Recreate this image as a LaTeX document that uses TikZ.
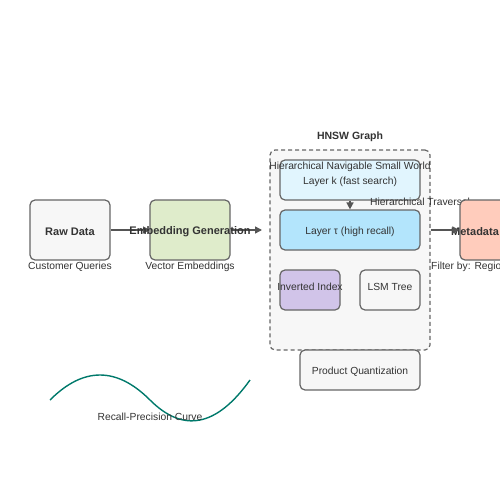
\documentclass[tikz,border=0pt]{standalone}
\usepackage{fontspec}
\setmainfont{Liberation Sans}
\usetikzlibrary{arrows.meta}
\definecolor{bord}{HTML}{666666}
\definecolor{txt}{HTML}{333333}
\definecolor{lgray}{HTML}{F7F7F7}
\definecolor{egreen}{HTML}{DFECCB}
\definecolor{lblue}{HTML}{E1F5FE}
\definecolor{mblue}{HTML}{B3E5FC}
\definecolor{salmon}{HTML}{FFCCBC}
\definecolor{lilac}{HTML}{D1C4E9}
\definecolor{teal}{HTML}{00796B}
\definecolor{arr}{HTML}{555555}
\tikzset{
  box/.style={draw=bord, line width=1.2pt, rounded corners=5pt, inner sep=0pt},
  lbl/.style={font=\fontsize{10.3}{12}\selectfont, text=txt, inner sep=0pt},
  blbl/.style={font=\fontsize{11}{13}\selectfont\bfseries, text=txt, inner sep=0pt},
  conn/.style={draw=arr, line width=1.5pt, -{Triangle[length=7pt,width=7pt]}},
}
\begin{document}
\begin{tikzpicture}[x=1pt,y=-1pt]
\useasboundingbox (0,0) rectangle (500,500);
\clip (0,0) rectangle (500,500);
% container
\node[draw=bord, line width=1.2pt, dashed, dash pattern=on 4pt off 3pt, rounded corners=5pt, fill=lgray, minimum width=160pt, minimum height=200pt, inner sep=0pt] (hnsw) at (350,250) {};
\node[blbl, font=\fontsize{10.5}{12}\selectfont\bfseries] (hnswt) at (350,137) {HNSW Graph};
% boxes
\node[box, fill=lgray, minimum width=80pt, minimum height=60pt] (raw) at (70,230) {};
\node[blbl] (rawt) at (70,232) {Raw Data};
\node[lbl] (rawsub) at (70,267) {Customer Queries};
\node[box, fill=egreen, minimum width=80pt, minimum height=60pt] (emb) at (190,230) {};
\node[box, fill=lblue, minimum width=140pt, minimum height=40pt] (lk) at (350,180) {};
\node[box, fill=mblue, minimum width=140pt, minimum height=40pt] (lt) at (350,230) {};
\node[lbl] (ltt) at (350,232) {Layer τ (high recall)};
\node[lbl] (lkt) at (350,182) {Layer k (fast search)};
\node[lbl] (lksub) at (350,167) {Hierarchical Navigable Small World};
\node[box, fill=lilac, minimum width=60pt, minimum height=40pt] (inv) at (310,290) {};
\node[lbl] (invt) at (310,287) {Inverted Index};
\node[box, fill=lgray, minimum width=60pt, minimum height=40pt] (lsm) at (390,290) {};
\node[lbl] (lsmt) at (390,287) {LSM Tree};
\node[box, fill=lgray, minimum width=120pt, minimum height=40pt] (pq) at (360,370) {};
\node[lbl] (pqt) at (360,372) {Product Quantization};
\node[lbl, anchor=west] (trav) at (370,202) {Hierarchical Traversal};
\node[box, fill=salmon, minimum width=80pt, minimum height=60pt] (meta) at (500,230) {};
\node[blbl, anchor=west] (metat) at (451,232) {Metadata};
\node[lbl, anchor=west] (metasub) at (431,267) {Filter by: Region};
% connectors
\coordinate (e1) at (150,230);
\coordinate (e2) at (262,230);
\draw[conn] (raw.east) -- (e1);
\draw[conn] (lk.south) -- (lt.north);
\draw[conn] (hnsw.east |- lt) -- (meta.west);
\draw[conn] (emb.east) -- (e2);
\node[blbl] (embt) at (190,232) {Embedding Generation};
\node[lbl] (embsub) at (190,267) {Vector Embeddings};
% curve
\coordinate (c0) at (50,400);
\coordinate (c1) at (150,400);
\coordinate (c2) at (250,380);
\draw[teal, line width=1.4pt] (c0) .. controls (83.33,366.67) and (116.67,366.67) .. (c1)
  .. controls (183.33,433.33) and (216.67,426.67) .. (c2);
\node[lbl] (curvet) at (150,417) {Recall-Precision Curve};
\end{tikzpicture}
\end{document}
